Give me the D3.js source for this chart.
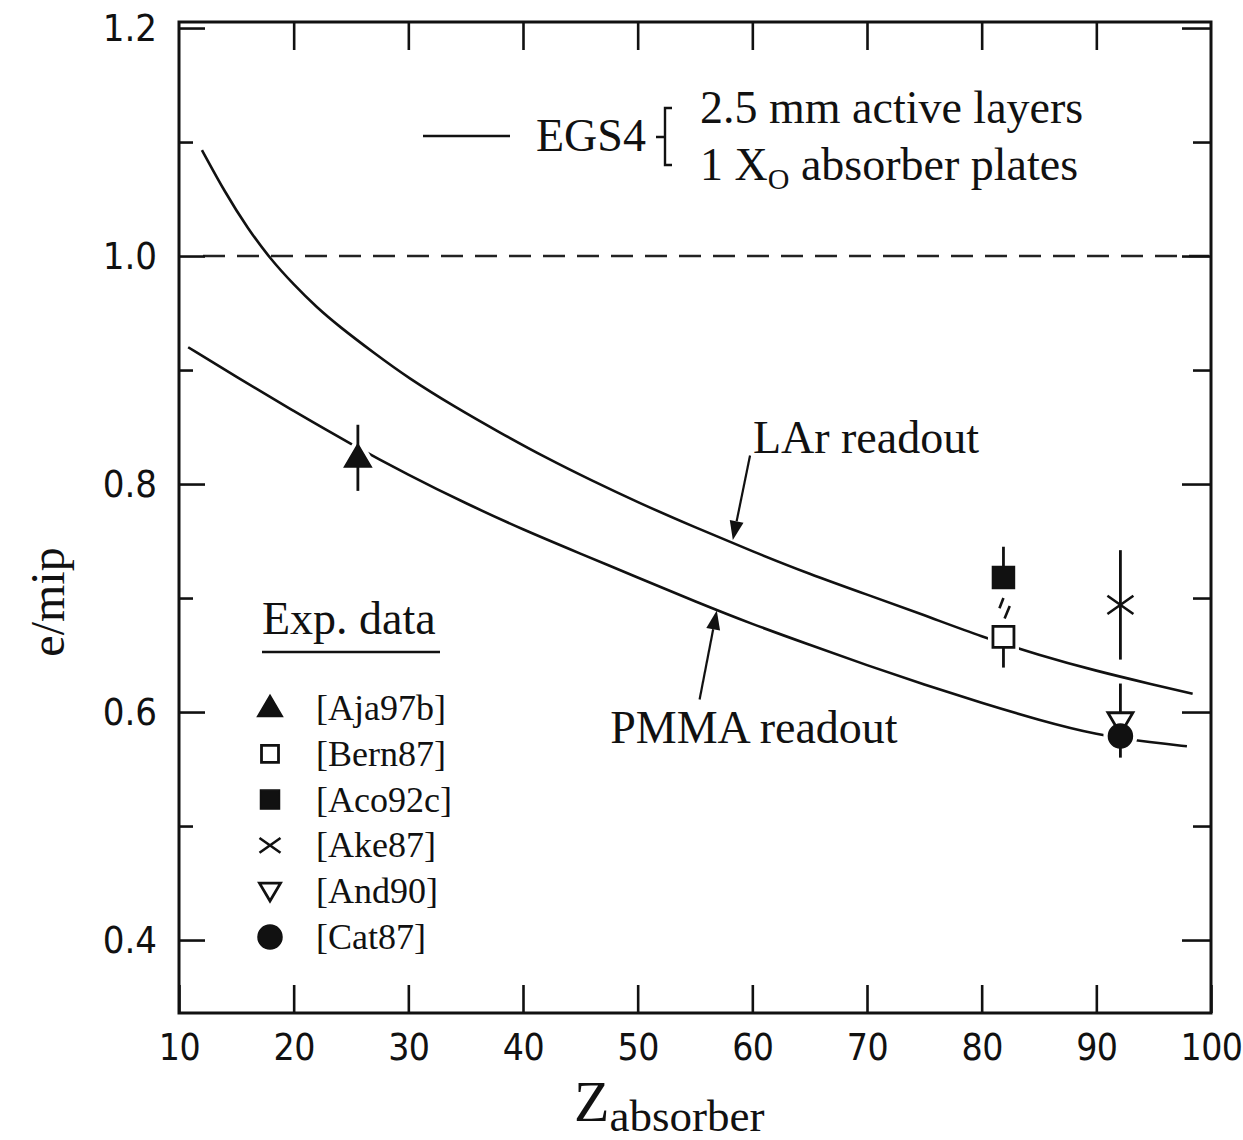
<!DOCTYPE html>
<html>
<head>
<meta charset="utf-8">
<script src="https://cdn.jsdelivr.net/npm/d3@7/dist/d3.min.js"></script>
<style>
  html, body { margin: 0; padding: 0; background: #fff; }
  svg { display: block; }
  .serif { font-family: "Liberation Serif", "Times New Roman", serif; fill: #111; }
  .tick text { font-family: "DejaVu Sans Condensed", "DejaVu Sans", sans-serif; fill: #111; }
</style>
</head>
<body>
<svg id="chart" width="1243" height="1140"></svg>
<script>
// Axis ticks
const zTicks = [10, 20, 30, 40, 50, 60, 70, 80, 90, 100];
const yMajor = [0.4, 0.6, 0.8, 1.0, 1.2];
const yMinor = [0.5, 0.7, 0.9, 1.1];

// EGS4 simulation, LAr readout
const larZ = [12, 14, 16, 18, 20, 22, 24, 27, 30, 34, 38, 42, 46, 50, 55, 60, 65, 70, 75, 80, 85, 90, 95, 98.4];
const larV = [1.093, 1.056, 1.024, 0.997, 0.975, 0.955, 0.938, 0.915, 0.893, 0.868, 0.845, 0.823, 0.803, 0.784, 0.762, 0.741, 0.721, 0.703, 0.685, 0.666, 0.650, 0.636, 0.624, 0.616];

// EGS4 simulation, PMMA readout
const pmmaZ = [10.8, 15, 20, 25, 30, 35, 40, 45, 50, 55, 60, 65, 70, 75, 80, 85, 90, 95, 97.9];
const pmmaV = [0.920, 0.894, 0.864, 0.835, 0.808, 0.783, 0.760, 0.739, 0.718, 0.697, 0.677, 0.659, 0.641, 0.624, 0.608, 0.593, 0.580, 0.573, 0.570];

// Experimental data
const expRefs  = ["Aja97b", "Bern87", "Aco92c", "Ake87", "And90", "Cat87"];
const expSym   = ["triUp", "squareOpen", "squareFilled", "cross", "triDownOpen", "circle"];
const expZ     = [25.6, 81.9, 81.9, 92.1, 92.1, 92.1];
const expV     = [0.823, 0.666, 0.718, 0.694, 0.591, 0.579];
const expErrLo = [0.794, 0.639, 0.718, 0.646, 0.591, 0.560];
const expErrHi = [0.852, 0.666, 0.745, 0.742, 0.625, 0.579];

// Broken error-bar link between the two Z=82 measurements [z1, v1, z2, v2]
const linkSegs = [[81.55, 0.691, 81.9, 0.700], [82.0, 0.682, 82.45, 0.693]];

const svg = d3.select("#chart");
const plotLeft = 179, plotRight = 1211, plotTop = 22, plotBottom = 1013;

const x = d3.scaleLinear().domain([10, 100]).range([plotLeft, plotRight]);
const y = d3.scaleLinear().domain([0.336, 1.2053]).range([plotBottom, plotTop]);

const ink = "#111";

// dashed reference line at e/mip = 1
svg.append("line")
  .attr("x1", x(10) + 24).attr("x2", x(100) - 2)
  .attr("y1", y(1.0)).attr("y2", y(1.0))
  .attr("stroke", "#222").attr("stroke-width", 2.6)
  .attr("stroke-dasharray", "22 12");

// simulation curves
const line = d3.line().x(d => x(d[0])).y(d => y(d[1])).curve(d3.curveBasis);
const larPts = larZ.map((z, i) => [z, larV[i]]);
const pmmaPts = pmmaZ.map((z, i) => [z, pmmaV[i]]);
[larPts, pmmaPts].forEach(pts => {
  svg.append("path").datum(pts).attr("d", line)
    .attr("fill", "none").attr("stroke", ink).attr("stroke-width", 2.6);
});

// marker shapes
function markerPath(type, s) {
  const h = s / 2;
  switch (type) {
    case "triUp": {
      const th = s * 0.85;
      return `M0,${-th * 0.6}L${h},${th * 0.4}L${-h},${th * 0.4}Z`;
    }
    case "triDownOpen": {
      const th = s * 0.85;
      return `M${-h},${-th * 0.45}L${h},${-th * 0.45}L0,${th * 0.55}Z`;
    }
    case "squareOpen":
    case "squareFilled":
      return `M${-h},${-h}H${h}V${h}H${-h}Z`;
    case "circle": {
      const p = d3.path();
      p.arc(0, 0, h, 0, 2 * Math.PI);
      return p.toString();
    }
    case "cross":
      return `M${-h},${-h * 0.7}L${h},${h * 0.7}M${-h},${h * 0.7}L${h},${-h * 0.7}`;
  }
}
function drawMarker(g, type, s) {
  const p = g.append("path").attr("d", markerPath(type, s));
  if (type === "triUp" || type === "squareFilled" || type === "circle") {
    p.attr("fill", ink).attr("stroke", ink).attr("stroke-width", 1.5);
  } else if (type === "cross") {
    p.attr("fill", "none").attr("stroke", ink).attr("stroke-width", 2.6);
  } else {
    p.attr("fill", "#fff").attr("stroke", ink).attr("stroke-width", 2.8);
  }
  return p;
}

const sizes = { triUp: 27, squareOpen: 21, squareFilled: 22, cross: 26, triDownOpen: 25, circle: 24 };

// white halos around markers break the curves underneath
const exp = expRefs.map((r, i) => ({ ref: r, sym: expSym[i], z: expZ[i], v: expV[i], lo: expErrLo[i], hi: expErrHi[i] }));
exp.forEach(d => {
  if (d.sym === "cross") return;
  svg.append("path")
    .attr("transform", `translate(${x(d.z)},${y(d.v)})`)
    .attr("d", markerPath(d.sym, sizes[d.sym]))
    .attr("fill", "#fff").attr("stroke", "#fff").attr("stroke-width", 10);
});

// error bars
exp.forEach(d => {
  if (d.hi > d.lo) {
    svg.append("line")
      .attr("x1", x(d.z)).attr("x2", x(d.z))
      .attr("y1", y(d.hi)).attr("y2", y(d.lo))
      .attr("stroke", ink).attr("stroke-width", 2.8);
  }
});
linkSegs.forEach(s => {
  svg.append("line")
    .attr("x1", x(s[0])).attr("y1", y(s[1]))
    .attr("x2", x(s[2])).attr("y2", y(s[3]))
    .attr("stroke", ink).attr("stroke-width", 2.6);
});

// markers
exp.forEach(d => {
  const g = svg.append("g").attr("transform", `translate(${x(d.z)},${y(d.v)})`);
  drawMarker(g, d.sym, sizes[d.sym]);
});

// frame
svg.append("rect")
  .attr("x", plotLeft).attr("y", plotTop)
  .attr("width", plotRight - plotLeft).attr("height", plotBottom - plotTop)
  .attr("fill", "none").attr("stroke", ink).attr("stroke-width", 3);

// axes with inward ticks
function styleAxis(g) {
  g.select(".domain").remove();
  g.selectAll(".tick line").attr("stroke", ink).attr("stroke-width", 2.6);
}
svg.append("g").attr("transform", `translate(0,${plotBottom})`)
  .call(d3.axisBottom(x).tickValues(zTicks).tickSize(-28).tickPadding(21).tickFormat(d3.format("d")))
  .call(styleAxis)
  .selectAll("text").attr("font-size", 37).attr("letter-spacing", -0.5);
svg.append("g").attr("transform", `translate(0,${plotTop})`)
  .call(d3.axisTop(x).tickValues(zTicks.slice(1, -1)).tickSize(-28).tickFormat(""))
  .call(styleAxis);
svg.append("g").attr("transform", `translate(${plotLeft},0)`)
  .call(d3.axisLeft(y).tickValues(yMajor).tickSize(-26).tickPadding(22).tickFormat(d3.format(".1f")))
  .call(styleAxis)
  .selectAll("text").attr("font-size", 38);
svg.append("g").attr("transform", `translate(${plotLeft},0)`)
  .call(d3.axisLeft(y).tickValues(yMinor).tickSize(-14).tickFormat(""))
  .call(styleAxis);
svg.append("g").attr("transform", `translate(${plotRight},0)`)
  .call(d3.axisRight(y).tickValues(yMajor).tickSize(-29).tickFormat(""))
  .call(styleAxis);
svg.append("g").attr("transform", `translate(${plotRight},0)`)
  .call(d3.axisRight(y).tickValues(yMinor).tickSize(-18).tickFormat(""))
  .call(styleAxis);

// axis titles
svg.append("text").attr("class", "serif")
  .attr("transform", "translate(64,602) rotate(-90)")
  .attr("text-anchor", "middle").attr("font-size", 48)
  .text("e/mip");
const xt = svg.append("text").attr("class", "serif").attr("x", 574).attr("y", 1121);
xt.append("tspan").attr("font-size", 58).text("Z");
xt.append("tspan").attr("font-size", 45).attr("dy", 10).text("absorber");

// EGS4 key
svg.append("line").attr("x1", 423).attr("x2", 510).attr("y1", 136).attr("y2", 136)
  .attr("stroke", ink).attr("stroke-width", 2.6);
svg.append("text").attr("class", "serif").attr("x", 536).attr("y", 151)
  .attr("font-size", 46).text("EGS4");
svg.append("path")
  .attr("d", "M672,108 H665 V165 H672 M665,137 H656")
  .attr("fill", "none").attr("stroke", ink).attr("stroke-width", 2.4);
svg.append("text").attr("class", "serif").attr("x", 700).attr("y", 123)
  .attr("font-size", 46).text("2.5 mm active layers");
const l2 = svg.append("text").attr("class", "serif").attr("x", 700).attr("y", 180).attr("font-size", 46);
l2.append("tspan").text("1 X");
l2.append("tspan").attr("font-size", 30).attr("dy", 9).text("O");
l2.append("tspan").attr("dy", -9).text(" absorber plates");

// curve labels with arrows
const arrows = [
  { label: "LAr readout",  lz: 60.05, lv: 0.827, tail: [59.8, 0.825], tip: [58.3, 0.751] },
  { label: "PMMA readout", lz: 47.6,  lv: 0.573, tail: [55.4, 0.611], tip: [56.9, 0.689] }
];
arrows.forEach(a => {
  svg.append("text").attr("class", "serif")
    .attr("x", x(a.lz)).attr("y", y(a.lv)).attr("font-size", 46).text(a.label);
  const x0 = x(a.tail[0]), y0 = y(a.tail[1]), x1 = x(a.tip[0]), y1 = y(a.tip[1]);
  const ang = Math.atan2(y1 - y0, x1 - x0);
  const L = 19, Wd = 7;
  const bx = x1 - L * Math.cos(ang), by = y1 - L * Math.sin(ang);
  svg.append("line").attr("x1", x0).attr("y1", y0).attr("x2", bx).attr("y2", by)
    .attr("stroke", ink).attr("stroke-width", 2.2);
  svg.append("path")
    .attr("d", `M${x1},${y1}L${bx + Wd * Math.sin(ang)},${by - Wd * Math.cos(ang)}L${bx - Wd * Math.sin(ang)},${by + Wd * Math.cos(ang)}Z`)
    .attr("fill", ink);
});

// experimental data key
svg.append("text").attr("class", "serif").attr("x", 262).attr("y", 634)
  .attr("font-size", 46).text("Exp. data");
svg.append("line").attr("x1", 262).attr("x2", 440).attr("y1", 652).attr("y2", 652)
  .attr("stroke", ink).attr("stroke-width", 2.6);
const legendSizes = { triUp: 25, squareOpen: 17, squareFilled: 19, cross: 21, triDownOpen: 21, circle: 24 };
const legY = d3.scalePoint().domain(expRefs).range([708, 937]);
expRefs.forEach((r, i) => {
  const cy = legY(r);
  const g = svg.append("g").attr("transform", `translate(270,${cy})`);
  drawMarker(g, expSym[i], legendSizes[expSym[i]]);
  svg.append("text").attr("class", "serif").attr("x", 316).attr("y", cy + 12)
    .attr("font-size", 36).text(`[${r}]`);
});
</script>
</body>
</html>
